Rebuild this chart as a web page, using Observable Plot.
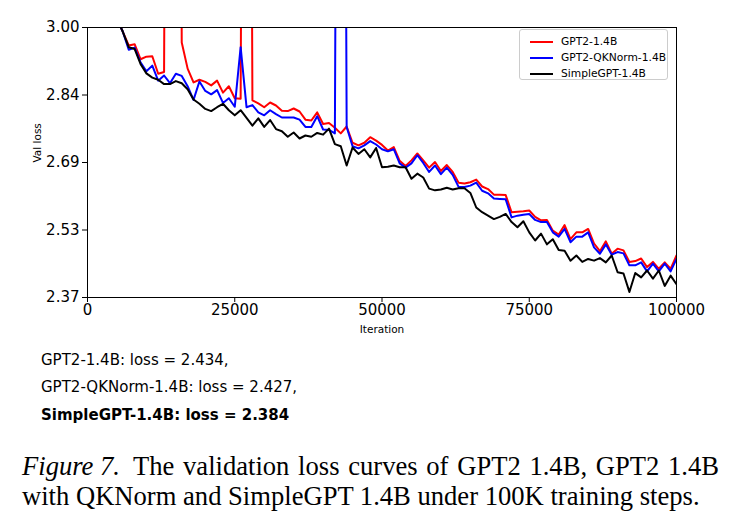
<!DOCTYPE html>
<html><head><meta charset="utf-8">
<script src="https://cdn.jsdelivr.net/npm/d3@7"></script>
<script src="https://cdn.jsdelivr.net/npm/@observablehq/plot@0.6"></script>
<style>
body{margin:0;background:#fff;}
#wrap{position:relative;width:735px;height:525px;overflow:hidden;background:#fff;font-family:"DejaVu Sans",sans-serif;color:#000;}
#wrap svg{position:absolute;left:0;top:0;}
.legend{position:absolute;left:519px;top:29px;width:149px;height:51px;border:1px solid #cccccc;border-radius:3px;background:rgba(255,255,255,0.8);box-sizing:border-box;}
.legend .row{position:absolute;left:0;height:14px;font-size:10.7px;line-height:14px;white-space:nowrap;}
.legend .sw{position:absolute;left:10px;top:6px;width:23px;height:2px;}
.legend .tx{position:absolute;left:41px;top:0;}
.loss{position:absolute;left:41px;font-size:15px;line-height:20px;white-space:nowrap;}
.cap{position:absolute;font-family:"Liberation Serif",serif;font-size:26.6px;line-height:30px;white-space:nowrap;}
</style></head><body><div id="wrap"></div>
<script>
const iterations = [5000,6000,7000,8000,9000,10000,11000,12000,13000,14000,
15000,16000,17000,18000,19000,20000,21000,22000,23000,24000,
25000,26000,27000,28000,29000,30000,31000,32000,33000,34000,
35000,36000,37000,38000,39000,40000,41000,42000,43000,44000,
45000,46000,47000,48000,49000,50000,51000,52000,53000,54000,
55000,56000,57000,58000,59000,60000,61000,62000,63000,64000,
65000,66000,67000,68000,69000,70000,71000,72000,73000,74000,
75000,76000,77000,78000,79000,80000,81000,82000,83000,84000,
85000,86000,87000,88000,89000,90000,91000,92000,93000,94000,
95000,96000,97000,98000,99000,100000];

const gpt2 = [3.02,2.99,2.958,2.961,2.926,2.932,2.933,2.892,2.896,6.0,
6.0,2.965,2.904,2.872,2.878,2.873,2.865,2.876,2.848,2.863,
2.835,2.834,6.0,2.830,2.823,2.814,2.825,2.818,2.806,2.805,
2.811,2.804,2.785,2.783,2.802,2.775,2.777,2.766,2.753,2.769,
2.731,2.725,2.731,2.744,2.736,2.726,2.713,2.721,2.689,2.677,
2.690,2.706,2.690,2.673,2.686,2.665,2.679,2.663,2.638,2.636,
2.639,2.645,2.629,2.623,2.610,2.610,2.609,2.569,2.570,2.571,
2.573,2.558,2.550,2.551,2.526,2.517,2.539,2.506,2.522,2.522,
2.530,2.496,2.478,2.501,2.472,2.484,2.480,2.453,2.455,2.461,
2.441,2.453,2.437,2.452,2.437,2.468];

const gpt2QKNorm = [3.02,2.99,2.948,2.953,2.919,2.898,2.911,2.876,2.888,2.870,
2.892,2.887,2.863,2.831,2.874,2.852,2.844,2.854,2.824,2.835,
2.815,2.954,2.814,2.819,2.802,2.795,2.807,2.798,2.790,2.790,
2.790,2.785,2.768,2.768,2.793,2.762,2.761,2.753,6.0,2.768,
2.723,2.718,2.725,2.735,2.727,2.716,2.711,2.716,2.683,2.673,
2.683,2.702,2.684,2.663,2.678,2.658,2.673,2.656,2.628,2.628,
2.631,2.638,2.619,2.613,2.601,2.600,2.599,2.557,2.561,2.563,
2.565,2.551,2.546,2.546,2.522,2.512,2.530,2.499,2.512,2.512,
2.522,2.487,2.472,2.494,2.470,2.476,2.473,2.445,2.445,2.452,
2.431,2.449,2.431,2.449,2.431,2.460];

const simpleGPT = [3.02,2.99,2.954,2.950,2.915,2.893,2.883,2.878,2.868,2.868,
2.875,2.870,2.856,2.832,2.822,2.810,2.805,2.814,2.822,2.807,
2.795,2.807,2.789,2.771,2.788,2.768,2.784,2.763,2.758,2.745,
2.755,2.741,2.748,2.745,2.754,2.750,2.764,2.728,2.723,2.678,
2.720,2.705,2.716,2.697,2.719,2.674,2.675,2.678,2.674,2.674,
2.647,2.659,2.650,2.624,2.620,2.622,2.626,2.622,2.625,2.625,
2.614,2.580,2.569,2.561,2.553,2.558,2.565,2.546,2.534,2.548,
2.522,2.503,2.519,2.494,2.506,2.481,2.479,2.456,2.468,2.453,
2.460,2.456,2.462,2.452,2.468,2.429,2.426,2.383,2.427,2.417,
2.433,2.414,2.433,2.397,2.421,2.401];

const seriesNames = ["GPT2-1.4B", "GPT2-QKNorm-1.4B", "SimpleGPT-1.4B"];
const seriesColors = ["#ff0000", "#0000ff", "#000000"];
const xTicks = [0, 25000, 50000, 75000, 100000];
const xTickLabels = ["0", "25000", "50000", "75000", "100000"];
const yTicks = [2.37, 2.5275, 2.685, 2.8425, 3.00];
const yTickLabels = ["2.37", "2.53", "2.69", "2.84", "3.00"];
const xDomain = [0, 100000];
const yDomain = [2.37, 3.00];
const xLabel = "Iteration";
const yLabel = "Val loss";
const lossLines = ["GPT2-1.4B: loss = 2.434,", "GPT2-QKNorm-1.4B: loss = 2.427,", "SimpleGPT-1.4B: loss = 2.384"];
const captionLead = "Figure 7.";
const captionLine1 = "The validation loss curves of GPT2 1.4B, GPT2 1.4B";
const captionLine2 = "with QKNorm and SimpleGPT 1.4B under 100K training steps.";

const allSeries = [gpt2, gpt2QKNorm, simpleGPT];
const tables = allSeries.map((vals, s) => iterations.map((it, i) => ({it, v: vals[i], s: seriesNames[s]})));

const plot = Plot.plot({
  width: 735,
  height: 340,
  marginLeft: 87,
  marginRight: 59,
  marginTop: 27,
  marginBottom: 43,
  style: {fontFamily: "DejaVu Sans", fontSize: "15px", background: "transparent", color: "#000"},
  x: {domain: xDomain},
  y: {domain: yDomain},
  marks: [
    ...tables.map((t, s) => Plot.line(t, {x: "it", y: "v", stroke: seriesColors[s], strokeWidth: 2, clip: true})),
    Plot.frame({stroke: "#000", strokeWidth: 1}),
    Plot.axisX({ticks: xTicks, tickFormat: (d) => xTickLabels[xTicks.indexOf(d)], tickSize: 5, tickPadding: 2, label: null, fontSize: 15}),
    Plot.axisY({ticks: yTicks, tickFormat: (d) => yTickLabels[yTicks.indexOf(d)], tickSize: 5, tickPadding: 3, label: null, fontSize: 15}),
    Plot.text([xLabel], {frameAnchor: "bottom", dy: 35, fontSize: 10.5, fill: "#000"}),
    Plot.text([yLabel], {frameAnchor: "left", dx: -50, rotate: -90, fontSize: 10.5, fill: "#000"})
  ]
});

const wrap = document.getElementById("wrap");
wrap.appendChild(plot);

const legend = document.createElement("div");
legend.className = "legend";
seriesNames.forEach((name, i) => {
  const row = document.createElement("div");
  row.className = "row";
  row.style.top = (5 + i * 16) + "px";
  const sw = document.createElement("div");
  sw.className = "sw";
  sw.style.background = seriesColors[i];
  const tx = document.createElement("div");
  tx.className = "tx";
  tx.textContent = name;
  row.appendChild(sw); row.appendChild(tx);
  legend.appendChild(row);
});
wrap.appendChild(legend);

const lossTops = [350, 377, 405];
lossLines.forEach((t, i) => {
  const d = document.createElement("div");
  d.className = "loss";
  d.style.top = lossTops[i] + "px";
  if (i === 2) d.style.fontWeight = "bold";
  d.textContent = t;
  wrap.appendChild(d);
});

function addCap(text, left, top, opts) {
  const d = document.createElement("div");
  d.className = "cap";
  d.style.left = left + "px";
  d.style.top = top + "px";
  if (opts && opts.italic) d.style.fontStyle = "italic";
  if (opts && opts.width) {
    d.style.width = opts.width + "px";
    d.style.whiteSpace = "normal";
    d.style.textAlign = "justify";
    d.style.textAlignLast = "justify";
  }
  d.textContent = text;
  wrap.appendChild(d);
}
addCap(captionLead, 22, 451, {italic: true});
addCap(captionLine1, 133, 451, {width: 586});
addCap(captionLine2, 22, 481);
</script>
</body></html>
